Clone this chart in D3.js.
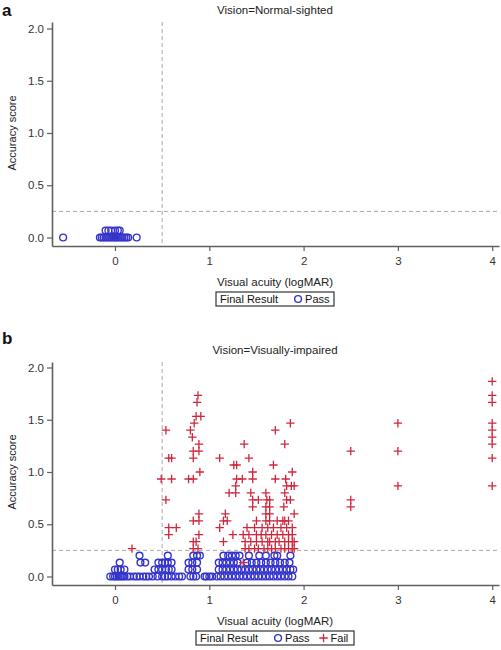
<!DOCTYPE html>
<html><head><meta charset="utf-8">
<script src="https://cdn.jsdelivr.net/npm/d3@7"></script>
<style>
html,body{margin:0;padding:0;background:#fff;}
svg{display:block;font-family:"Liberation Sans",Arial,sans-serif;}
</style></head>
<body><svg id="chart" width="501" height="650"></svg>
<script>
// ---------- data ----------
const panelTitles = ["Vision=Normal-sighted", "Vision=Visually-impaired"];
const panelLetters = ["a", "b"];
const xTicks = [0, 1, 2, 3, 4];
const yTicks = [0, 0.5, 1.0, 1.5, 2.0];
const xCutoff = 0.5;
const yCutoff = 0.25;

// Panel a: normal-sighted, all Pass  [logMAR, accuracy score]
const normalPass = [
  [-0.55,0],[-0.16,0],[-0.14,0],[-0.12,0],[-0.1,0],[-0.08,0],[-0.06,0],[-0.04,0],[-0.02,0],
  [0,0],[0.02,0],[0.04,0],[0.06,0],[0.08,0],[0.1,0],[0.12,0],[0.14,0],[0.23,0],
  [-0.1,0.067],[-0.07,0.067],[-0.04,0.067],[0,0.067],[0.03,0.067],[0.05,0.067]
];

// Panel b: visually-impaired, Pass
const impairedPass = [
  // score 0
  [-0.05,0],[-0.02,0],[0,0],[0.02,0],[0.04,0],[0.06,0],[0.08,0],[0.1,0],[0.13,0],[0.16,0],[0.2,0],
  [0.23,0],[0.26,0],[0.3,0],[0.33,0],[0.36,0],[0.4,0],[0.45,0],[0.5,0],[0.53,0],[0.56,0],[0.6,0],
  [0.64,0],[0.68,0],[0.71,0],[0.8,0],[0.83,0],[0.86,0],[0.95,0],[0.97,0],[1.0,0],[1.03,0],
  [1.08,0],[1.12,0],[1.16,0],[1.2,0],[1.24,0],[1.28,0],[1.32,0],[1.36,0],[1.4,0],[1.44,0],
  [1.48,0],[1.52,0],[1.56,0],[1.6,0],[1.64,0],[1.68,0],[1.72,0],[1.76,0],[1.8,0],[1.84,0],[1.88,0],
  // score 0.067
  [0,0.067],[0.03,0.067],[0.06,0.067],[0.1,0.067],[0.42,0.067],[0.46,0.067],[0.5,0.067],
  [0.54,0.067],[0.57,0.067],[0.6,0.067],[0.78,0.067],[0.82,0.067],[0.87,0.067],
  [1.1,0.067],[1.14,0.067],[1.18,0.067],[1.22,0.067],[1.26,0.067],[1.3,0.067],[1.34,0.067],
  [1.38,0.067],[1.42,0.067],[1.46,0.067],[1.5,0.067],[1.54,0.067],[1.58,0.067],[1.62,0.067],
  [1.66,0.067],[1.7,0.067],[1.74,0.067],[1.78,0.067],[1.82,0.067],[1.86,0.067],[1.89,0.067],
  // score 0.133
  [0.05,0.133],[0.27,0.133],[0.32,0.133],[0.46,0.133],[0.5,0.133],[0.53,0.133],[0.56,0.133],
  [0.6,0.133],[0.78,0.133],[0.82,0.133],[0.87,0.133],[1.1,0.133],[1.14,0.133],[1.18,0.133],
  [1.22,0.133],[1.26,0.133],[1.3,0.133],[1.4,0.133],[1.45,0.133],[1.5,0.133],[1.55,0.133],
  [1.6,0.133],[1.65,0.133],[1.7,0.133],[1.75,0.133],[1.8,0.133],[1.85,0.133],
  // score 0.2
  [0.26,0.2],[0.56,0.2],[0.83,0.2],[0.87,0.2],[0.9,0.2],[1.15,0.2],[1.2,0.2],[1.24,0.2],
  [1.28,0.2],[1.32,0.2],[1.42,0.2],[1.53,0.2],[1.6,0.2],[1.69,0.2],[1.72,0.2],[1.86,0.2]
];

// Panel b: visually-impaired, Fail
const impairedFail = [
  [4,1.867],[4,1.733],[4,1.667],[4,1.467],[4,1.4],[4,1.333],[4,1.267],[4,1.133],[4,0.867],
  [3,1.467],[3,1.2],[3,0.867],
  [2.5,1.2],[2.5,0.733],[2.5,0.667],
  [0.18,0.267],
  [0.54,1.4],[0.57,1.133],[0.6,1.133],[0.49,0.933],[0.6,0.933],[0.54,0.733],[0.57,0.467],
  [0.65,0.467],[0.57,0.4],
  [0.88,1.733],[0.87,1.667],[0.86,1.533],[0.91,1.533],[0.84,1.467],[0.8,1.4],[0.82,1.333],
  [0.89,1.267],[0.83,1.2],[0.89,1.2],[0.83,1.133],[0.9,1.0],[0.78,0.933],[0.83,0.933],
  [0.89,0.6],[0.83,0.533],[0.89,0.533],[0.89,0.4],[0.83,0.333],[0.86,0.333],[0.83,0.267],[0.88,0.267],
  [1.11,1.133],[1.26,1.067],[1.29,1.067],[1.37,1.267],[1.42,1.133],[1.46,1.0],[1.29,0.933],
  [1.35,0.933],[1.46,0.933],[1.28,0.867],[1.21,0.8],[1.28,0.8],[1.44,0.8],[1.46,0.733],
  [1.52,0.733],[1.46,0.667],[1.17,0.6],[1.15,0.533],[1.19,0.533],[1.11,0.467],[1.25,0.4],
  [1.15,0.333],[1.36,0.133],
  [1.6,0.8],[1.61,0.733],[1.64,0.733],[1.7,1.4],[1.86,1.467],[1.8,1.267],[1.68,1.067],[1.88,1.0],
  [1.7,0.933],[1.81,0.933],[1.82,0.867],[1.87,0.867],[1.9,0.867],[1.8,0.8],[1.82,0.733],
  [1.86,0.733],[1.6,0.667],[1.64,0.667],[1.79,0.667],[1.6,0.6],[1.64,0.6],[1.9,0.6],
  [1.5,0.533],[1.6,0.533],[1.64,0.533],[1.72,0.533],[1.78,0.533],[1.8,0.533],[1.84,0.533],
  [1.4,0.467],[1.48,0.467],[1.56,0.467],[1.62,0.467],[1.68,0.467],[1.76,0.467],[1.82,0.467],[1.88,0.467],
  [1.36,0.4],[1.42,0.4],[1.5,0.4],[1.55,0.4],[1.6,0.4],[1.66,0.4],[1.72,0.4],[1.78,0.4],[1.84,0.4],[1.88,0.4],
  [1.38,0.333],[1.44,0.333],[1.5,0.333],[1.56,0.333],[1.62,0.333],[1.64,0.333],[1.7,0.333],
  [1.74,0.333],[1.8,0.333],[1.84,0.333],[1.88,0.333],[1.9,0.333],
  [1.38,0.267],[1.42,0.267],[1.48,0.267],[1.52,0.267],[1.58,0.267],[1.62,0.267],[1.66,0.267],
  [1.7,0.267],[1.76,0.267],[1.8,0.267],[1.84,0.267],[1.88,0.267],[1.9,0.267]
];

const passColor = "#3333cc";
const failColor = "#d0273d";

// ---------- drawing ----------
const svg = d3.select("#chart");
const xLeft = 52, xRight = 499;

const panels = [
  {title: panelTitles[0], letter: panelLetters[0], top: 22, axisY: 246,
   letterY: 16, titleY: 14, pass: normalPass, fail: [], legend: ["Pass"]},
  {title: panelTitles[1], letter: panelLetters[1], top: 362, axisY: 585,
   letterY: 344, titleY: 354, pass: impairedPass, fail: impairedFail, legend: ["Pass", "Fail"]}
];

const x = d3.scaleLinear().domain([-0.668, 4.072]).range([xLeft, xRight]);
const plusPath = "M-4.2,0H4.2M0,-4.2V4.2";

panels.forEach((p, i) => {
  const g = svg.append("g");
  const zeroY = p.axisY - 8.5;
  const y0 = d3.scaleLinear().domain([0, 2]).range([zeroY, zeroY - 209]);
  const y = d3.scaleLinear().domain([y0.invert(p.axisY), y0.invert(p.top)]).range([p.axisY, p.top]);

  g.append("text").attr("x", 2).attr("y", p.letterY)
    .attr("font-size", 17).attr("font-weight", "bold").attr("fill", "#111")
    .text(p.letter);
  g.append("text").attr("x", 275).attr("y", p.titleY)
    .attr("text-anchor", "middle").attr("font-size", 11.5).attr("fill", "#222")
    .text(p.title);

  g.append("line").attr("x1", xLeft).attr("x2", xRight)
    .attr("y1", y(yCutoff)).attr("y2", y(yCutoff))
    .attr("stroke", "#a8a8a8").attr("stroke-width", 1).attr("stroke-dasharray", "4,3");
  g.append("line").attr("x1", x(xCutoff)).attr("x2", x(xCutoff))
    .attr("y1", p.top).attr("y2", p.axisY)
    .attr("stroke", "#a8a8a8").attr("stroke-width", 1).attr("stroke-dasharray", "4,3");

  const yAxis = d3.axisLeft(y).tickValues(yTicks).tickFormat(d3.format(".1f"))
    .tickSizeInner(5).tickSizeOuter(0).tickPadding(3);
  const ya = g.append("g").attr("transform", `translate(${xLeft},0)`).call(yAxis);
  const xAxis = d3.axisBottom(x).tickValues(xTicks).tickFormat(d3.format("d"))
    .tickSizeInner(5).tickSizeOuter(0).tickPadding(6);
  const xa = g.append("g").attr("transform", `translate(0,${p.axisY})`).call(xAxis);
  [ya, xa].forEach(a => {
    a.select(".domain").attr("stroke", "#606060").attr("stroke-width", 1.6);
    a.selectAll(".tick line").attr("stroke", "#606060").attr("stroke-width", 1.2);
    a.selectAll(".tick text").attr("fill", "#333").attr("font-size", 11.5)
      .attr("font-family", "Liberation Sans, Arial, sans-serif");
  });

  g.append("text").attr("x", 275).attr("y", p.axisY + 40)
    .attr("text-anchor", "middle").attr("font-size", 11.5).attr("fill", "#222")
    .text("Visual acuity (logMAR)");
  const midY = (y(0) + y(2)) / 2;
  g.append("text").attr("transform", `translate(16,${midY}) rotate(-90)`)
    .attr("text-anchor", "middle").attr("font-size", 11).attr("fill", "#222")
    .text("Accuracy score");

  g.append("g").selectAll("circle").data(p.pass).join("circle")
    .attr("cx", d => x(d[0])).attr("cy", d => y(d[1])).attr("r", 3.4)
    .attr("fill", "none").attr("stroke", passColor).attr("stroke-width", 1.4);
  g.append("g").selectAll("path").data(p.fail).join("path")
    .attr("d", plusPath)
    .attr("transform", d => `translate(${x(d[0])},${y(d[1])})`)
    .attr("fill", "none").attr("stroke", failColor).attr("stroke-width", 1.3);

  const lg = g.append("g");
  const ly = p.axisY + 53;
  const boxX = p.legend.length === 1 ? 216 : 196;
  const boxW = p.legend.length === 1 ? 118 : 158;
  lg.append("rect").attr("x", boxX).attr("y", ly - 7).attr("width", boxW).attr("height", 14)
    .attr("fill", "#fff").attr("stroke", "#333").attr("stroke-width", 1.2);
  let cx = boxX + 4;
  const t0 = lg.append("text").attr("x", cx).attr("y", ly + 4).attr("font-size", 11)
    .attr("fill", "#111").text("Final Result");
  cx += t0.node().getComputedTextLength() + 20;
  p.legend.forEach(name => {
    if (name === "Pass") {
      lg.append("circle").attr("cx", cx).attr("cy", ly).attr("r", 3.4)
        .attr("fill", "none").attr("stroke", passColor).attr("stroke-width", 1.4);
    } else {
      lg.append("path").attr("d", plusPath).attr("transform", `translate(${cx},${ly})`)
        .attr("fill", "none").attr("stroke", failColor).attr("stroke-width", 1.3);
    }
    const t = lg.append("text").attr("x", cx + 7).attr("y", ly + 4).attr("font-size", 11)
      .attr("fill", "#111").text(name);
    cx += 7 + t.node().getComputedTextLength() + 14;
  });
});
</script></body></html>
